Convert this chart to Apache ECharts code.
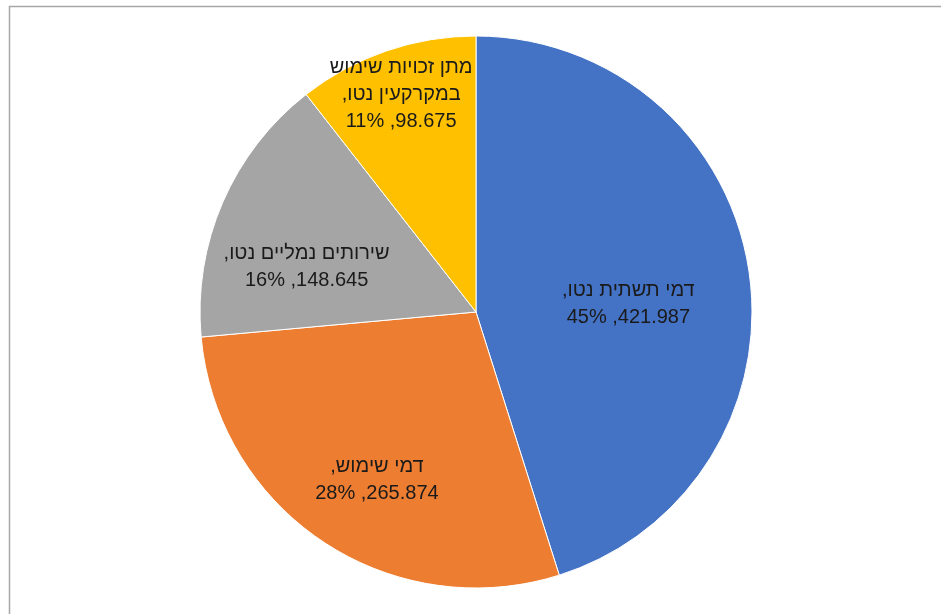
<!DOCTYPE html>
<html dir="rtl">
<head>
<meta charset="utf-8">
<script src="https://cdn.jsdelivr.net/npm/echarts@6/dist/echarts.min.js"></script>
<style>
  html, body { margin: 0; padding: 0; background: #fff; }
  #chart { width: 941px; height: 614px; }
</style>
</head>
<body>
<div id="chart"></div>
<script>
// נתונים
var categories = ['דמי תשתית נטו', 'דמי שימוש', 'שירותים נמליים נטו', 'מתן זכויות שימוש\nבמקרקעין נטו'];
var values = [421.987, 265.874, 148.645, 98.675];
var colors = ['#4472C4', '#ED7D31', '#A5A5A5', '#FFC000'];
// הזזת תוויות (Excel ממקם אותן מעט אחרת)
var labelOffsets = [[13, 14], [-21, 51], [-40, 11], [-29, -84]];

var total = values.reduce(function (a, b) { return a + b; }, 0);

var myChart = echarts.init(document.getElementById('chart'));
var option = {
  animation: false,
  color: colors,
  graphic: [
    {
      type: 'rect',
      shape: { x: 9.5, y: 6.5, width: 1000, height: 700 },
      style: { fill: 'none', stroke: '#a6a6a6', lineWidth: 1.5 },
      silent: true
    }
  ],
  series: [
    {
      type: 'pie',
      center: [476, 312],
      radius: 276,
      startAngle: 90,
      clockwise: true,
      itemStyle: { borderColor: '#fff', borderWidth: 1 },
      label: {
        position: 'inside',
        fontFamily: 'Liberation Sans, Arial, sans-serif',
        fontSize: 20,
        lineHeight: 27,
        color: '#1a1a1a',
        align: 'center',
        formatter: function (p) {
          var pct = Math.round(p.value / total * 100);
          return p.name + ',\n' + p.value.toFixed(3) + ', ' + pct + '%';
        }
      },
      labelLine: { show: false },
      data: categories.map(function (c, i) {
        return { name: c, value: values[i], label: { offset: labelOffsets[i] } };
      })
    }
  ]
};
myChart.setOption(option);
window.addEventListener('resize', function () {
  myChart.resize();
});
</script>
</body>
</html>
